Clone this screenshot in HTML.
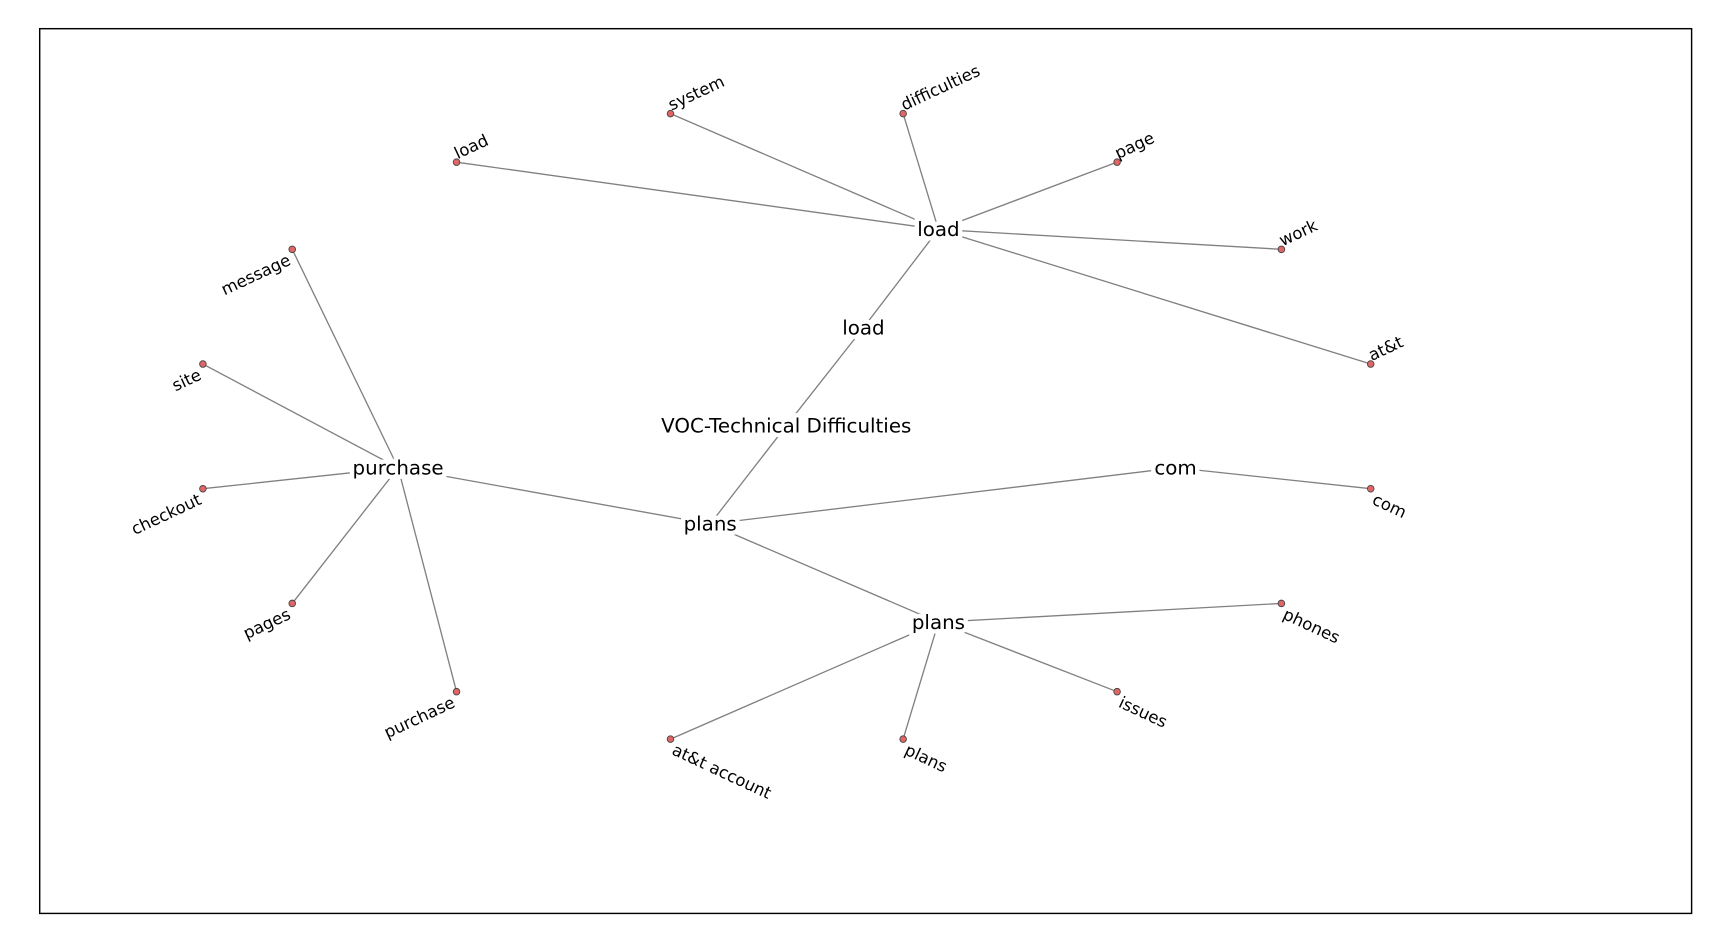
<!DOCTYPE html>
<html><head><meta charset="utf-8"><style>
html,body{margin:0;padding:0;background:#fff;}
svg{display:block;font-family:"DejaVu Sans","Liberation Sans",sans-serif;}
</style></head><body>
<svg id="chart" width="1728" height="941" viewBox="0 0 1567 853" preserveAspectRatio="none" xmlns="http://www.w3.org/2000/svg">
<rect x="36" y="26" width="1498" height="802" fill="#fff" stroke="#000" stroke-width="1.3"/>
<g id="edges"></g><g id="hubs"></g><g id="leaves"></g>
</svg>
<script>
const hubNames = ["VOC-Technical Difficulties","load","load","plans","purchase","com","plans"];
const hubX = [713,783,851,644,361,1066,851];
const hubY = [386,297,208,475,424,424,564];
const hubEdges = [[0,1],[1,2],[0,3],[3,4],[3,5],[3,6]];
const leafNames = ["load","system","difficulties","page","work","at&t","message","site","checkout","pages","purchase","com","phones","issues","plans","at&t account"];
const leafParent = [2,2,2,2,2,2,4,4,4,4,4,5,6,6,6,6];
const leafX = [414,608,819,1013,1162,1243,265,184,184,265,414,1243,1162,1013,819,608];
const leafY = [147,103,103,147,226,330,226,330,443,547,627,443,547,627,670,670];
const leafSide = ["up","up","up","up","up","up","left","left","left","left","left","down","down","down","down","down"];

const NS="http://www.w3.org/2000/svg";
const eg=document.getElementById('edges'), hg=document.getElementById('hubs'), lg=document.getElementById('leaves');
function line(x1,y1,x2,y2,name){
  const l=document.createElementNS(NS,'line');
  l.setAttribute('x1',x1);l.setAttribute('y1',y1);l.setAttribute('x2',x2);l.setAttribute('y2',y2);
  l.setAttribute('stroke','#808080');l.setAttribute('stroke-width','1.2');
  
  
  eg.appendChild(l);
}
hubEdges.forEach(e=>line(hubX[e[0]],hubY[e[0]],hubX[e[1]],hubY[e[1]],'edge-'+hubNames[e[0]].toLowerCase().replace(/[^a-z]+/g,'-')+'-'+hubNames[e[1]]));
leafNames.forEach((n,i)=>line(hubX[leafParent[i]],hubY[leafParent[i]],leafX[i],leafY[i],'edge-'+n.replace(/[^a-z]+/g,'-')));
hubNames.forEach((n,i)=>{
  const t=document.createElementNS(NS,'text');
  t.setAttribute('x',hubX[i]);t.setAttribute('y',hubY[i]+6);
  t.setAttribute('text-anchor','middle');t.setAttribute('font-size','18');
  t.setAttribute('stroke','#fff');t.setAttribute('stroke-width','8');t.setAttribute('paint-order','stroke');
  t.textContent=n;
  
  
  hg.appendChild(t);
});
leafNames.forEach((n,i)=>{
  const c=document.createElementNS(NS,'circle');
  c.setAttribute('cx',leafX[i]);c.setAttribute('cy',leafY[i]);c.setAttribute('r','3');
  c.setAttribute('fill','#e06666');c.setAttribute('stroke','#444');c.setAttribute('stroke-width','0.8');
  
  
  lg.appendChild(c);
  const t=document.createElementNS(NS,'text');
  const s=leafSide[i];
  let ang=-25, anchor='start', dy=-2, dx=2;
  if(s==='left'){anchor='end';dy=12;dx=-6;}
  if(s==='down'){ang=25;dy=12;dx=6;}
  t.setAttribute('x',leafX[i]+dx);t.setAttribute('y',leafY[i]+dy);
  t.setAttribute('text-anchor',anchor);t.setAttribute('font-size','15');
  t.setAttribute('transform','rotate('+ang+' '+leafX[i]+' '+leafY[i]+')');
  t.textContent=n;
  
  
  lg.appendChild(t);
});
</script>
</body></html>
